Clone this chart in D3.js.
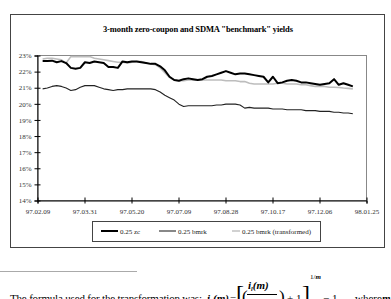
<!DOCTYPE html>
<html>
<head>
<meta charset="utf-8">
<script src="https://cdn.jsdelivr.net/npm/d3@7.9.0/dist/d3.min.js"></script>
<style>
  html, body { margin: 0; padding: 0; background: #fff; }
  svg { display: block; font-family: "Liberation Serif", "DejaVu Serif", serif; }
</style>
</head>
<body>
<div id="chart"></div>
<script>
// data (percent)
const dates = [
  '97.02.15','97.02.20','97.02.25','97.03.02','97.03.07','97.03.12','97.03.17','97.03.22','97.03.27',
  '97.04.01','97.04.06','97.04.11','97.04.16','97.04.21','97.04.26','97.05.01','97.05.06','97.05.11',
  '97.05.16','97.05.21','97.05.26','97.05.31','97.06.05','97.06.10','97.06.15','97.06.20','97.06.25',
  '97.06.30','97.07.05','97.07.10','97.07.15','97.07.20','97.07.25','97.07.30','97.08.04','97.08.09',
  '97.08.14','97.08.19','97.08.24','97.08.29','97.09.03','97.09.08','97.09.13','97.09.18','97.09.23',
  '97.09.28','97.10.03','97.10.08','97.10.13','97.10.18','97.10.23','97.10.28','97.11.02','97.11.07',
  '97.11.12','97.11.17','97.11.22','97.11.27','97.12.02','97.12.07','97.12.12','97.12.17','97.12.22',
  '97.12.27','98.01.01','98.01.06','98.01.11'
];
const zc = [
  22.63,22.63,22.65,22.55,22.62,22.5,22.2,22.15,22.2,22.55,22.5,22.6,22.55,22.5,22.25,22.25,22.2,22.6,
  22.55,22.6,22.6,22.55,22.5,22.45,22.45,22.3,22.05,21.65,21.45,21.4,21.5,21.55,21.5,21.45,21.5,21.65,
  21.7,21.8,21.9,22.0,21.9,21.8,21.85,21.85,21.8,21.75,21.7,21.65,21.3,21.65,21.25,21.3,21.4,21.45,
  21.4,21.3,21.3,21.25,21.2,21.15,21.2,21.25,21.5,21.15,21.25,21.15,21.05
];
const bmrk = [
  20.9,20.95,21.05,21.1,21.05,20.95,20.8,20.85,21.0,21.1,21.1,21.1,21.0,20.9,20.85,20.8,20.85,20.85,
  20.9,20.9,20.9,20.9,20.9,20.9,20.85,20.7,20.5,20.35,20.2,19.95,19.8,19.85,19.85,19.85,19.85,19.85,
  19.85,19.9,19.9,19.95,19.95,19.95,19.9,19.7,19.75,19.7,19.7,19.7,19.7,19.65,19.65,19.65,19.6,19.6,
  19.6,19.6,19.55,19.55,19.55,19.5,19.5,19.5,19.45,19.45,19.4,19.4,19.35
];
const bmrkT = [
  22.75,22.8,22.8,22.75,22.7,22.5,22.9,22.9,22.9,22.9,22.9,22.8,22.75,22.7,22.65,22.6,22.55,22.55,
  22.5,22.55,22.6,22.6,22.5,22.45,22.4,22.2,21.9,21.6,21.45,21.4,21.4,21.45,21.45,21.45,21.45,21.45,
  21.45,21.45,21.45,21.4,21.4,21.4,21.35,21.35,21.25,21.2,21.2,21.2,21.2,21.2,21.25,21.25,21.2,21.2,
  21.2,21.15,21.15,21.1,21.05,21.05,21.05,21.0,21.0,20.98,20.95,20.93,20.9
];
const xTicks = ['97.02.09','97.03.31','97.05.20','97.07.09','97.08.28','97.10.17','97.12.06','98.01.25'];
const yTicks = [14,15,16,17,18,19,20,21,22,23];
const seriesNames = ['0.25 zc','0.25 bmrk','0.25 bmrk (transformed)'];

const W = 391, H = 299;
const parse = d3.timeParse('%y.%m.%d');
const svg = d3.select('#chart').append('svg').attr('width', W).attr('height', H);

// chart frame
svg.append('rect').attr('x', 10.5).attr('y', 14.5).attr('width', 374).attr('height', 233)
  .attr('fill', '#fff').attr('stroke', '#444').attr('stroke-width', 1);

svg.append('text').attr('x', 198).attr('y', 32).attr('text-anchor', 'middle')
  .attr('font-size', 8.5).attr('font-weight', 'bold').attr('textLength', 190)
  .text('3-month zero-coupon and SDMA "benchmark" yields');

const x = d3.scaleTime().domain([parse(xTicks[0]), parse(xTicks[xTicks.length - 1])]).range([37, 366]);
const y = d3.scaleLinear().domain([14, 23]).range([200, 55]);

// plot area border
svg.append('rect').attr('x', 37.5).attr('y', 55.5).attr('width', 329).attr('height', 145)
  .attr('fill', 'none').attr('stroke', '#888').attr('stroke-width', 1);

const yAxis = svg.append('g').attr('transform', 'translate(37.5,0.5)')
  .call(d3.axisLeft(y).tickValues(yTicks).tickSize(3).tickPadding(3).tickFormat(d => d + '%'));
const xAxis = svg.append('g').attr('transform', 'translate(0.5,200.5)')
  .call(d3.axisBottom(x).tickValues(xTicks.map(parse)).tickSize(3).tickPadding(6)
    .tickFormat(d3.timeFormat('%y.%m.%d')));
[yAxis, xAxis].forEach(g => {
  g.select('.domain').attr('stroke', '#000');
  g.selectAll('.tick line').attr('stroke', '#000');
  g.selectAll('text').attr('font-size', 7).attr('fill', '#333')
    .attr('font-family', '"Liberation Serif", serif');
});
// ticks cross the axis
yAxis.selectAll('.tick line').attr('x2', 3).attr('x1', -3);
xAxis.selectAll('.tick line').attr('y1', -3).attr('y2', 3);

const line = d3.line().x((d, i) => x(parse(dates[i]))).y(d => y(d));
const styles = [
  { data: bmrkT, color: '#bdbdbd', w: 1.6 },
  { data: bmrk, color: '#222', w: 1.1 },
  { data: zc, color: '#000', w: 2 }
];
styles.forEach(s => {
  svg.append('path').datum(s.data).attr('d', line).attr('fill', 'none')
    .attr('stroke', s.color).attr('stroke-width', s.w).attr('stroke-linejoin', 'round');
});

// legend
const lg = svg.append('g');
lg.append('rect').attr('x', 92.5).attr('y', 221.5).attr('width', 228).attr('height', 20)
  .attr('fill', '#fff').attr('stroke', '#444');
const legendItems = [
  { name: seriesNames[0], color: '#000', w: 2, x0: 101, x1: 118 },
  { name: seriesNames[1], color: '#555', w: 1.4, x0: 159, x1: 176 },
  { name: seriesNames[2], color: '#bdbdbd', w: 1.4, x0: 232, x1: 240 }
];
legendItems.forEach(it => {
  lg.append('line').attr('x1', it.x0).attr('x2', it.x1).attr('y1', 231).attr('y2', 231)
    .attr('stroke', it.color).attr('stroke-width', it.w);
  lg.append('text').attr('x', it.x1 + 2).attr('y', 233.5).attr('font-size', 7).attr('fill', '#222')
    .text(it.name);
});

// footnote
svg.append('line').attr('x1', 0).attr('x2', 137).attr('y1', 271.5).attr('y2', 271.5)
  .attr('stroke', '#aaa').attr('stroke-width', 1);
const fn = svg.append('g').attr('font-size', 11).attr('fill', '#000');
fn.append('text').attr('x', 10).attr('y', 302).attr('textLength', 192).attr('lengthAdjust', 'spacing')
  .text('The formula used for the transformation was:');
const fb = 'bold italic';
fn.append('text').attr('x', 207).attr('y', 302).attr('font-weight', 'bold').attr('font-style', 'italic')
  .text('i').append('tspan').attr('font-size', 7).attr('dy', 2).text(' ');
fn.append('text').attr('x', 213).attr('y', 302).attr('font-weight', 'bold').attr('font-style', 'italic').text('(m)');
fn.append('text').attr('x', 230).attr('y', 302).text('=');
fn.append('text').attr('x', 236).attr('y', 302).attr('font-size', 24).attr('font-weight', 'normal').text('[');
fn.append('text').attr('x', 242).attr('y', 302).attr('font-size', 17).text('(');
const num = fn.append('text').attr('x', 248).attr('y', 289).attr('font-weight', 'bold').attr('font-style', 'italic');
num.append('tspan').text('i');
num.append('tspan').attr('font-size', 6).attr('dy', 2).text('l');
num.append('tspan').attr('dy', -2).text('(m)');
fn.append('line').attr('x1', 247).attr('x2', 277).attr('y1', 294.5).attr('y2', 294.5).attr('stroke', '#000');
fn.append('text').attr('x', 279).attr('y', 302).attr('font-size', 17).text(')');
fn.append('text').attr('x', 287).attr('y', 302).text('+ 1');
fn.append('text').attr('x', 302).attr('y', 302).attr('font-size', 24).text(']');
const sup = fn.append('text').attr('x', 310).attr('y', 279).attr('font-size', 7);
sup.append('tspan').text('1/');
sup.append('tspan').attr('font-weight', 'bold').attr('font-style', 'italic').text('m');
fn.append('text').attr('x', 323).attr('y', 302).text('\u2212 1');
fn.append('text').attr('x', 355).attr('y', 302).text('where');
fn.append('text').attr('x', 382).attr('y', 302).attr('font-weight', 'bold').attr('font-style', 'italic').text('m');
</script>
</body>
</html>
